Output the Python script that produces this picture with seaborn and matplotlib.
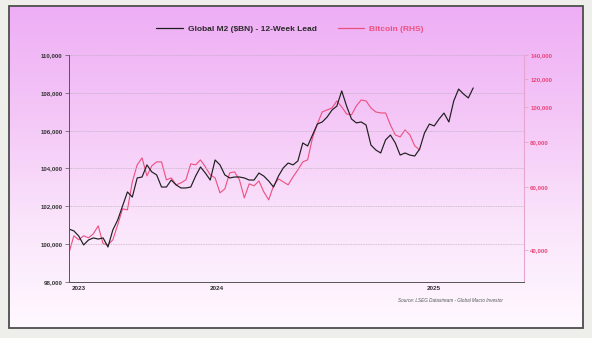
import numpy as np
import pandas as pd
import matplotlib
matplotlib.use("Agg")
import matplotlib.pyplot as plt
import matplotlib.dates as mdates
from matplotlib.colors import LinearSegmentedColormap
from matplotlib.lines import Line2D
from matplotlib.patches import Rectangle
from matplotlib.ticker import FixedLocator, FuncFormatter, NullLocator, NullFormatter
import seaborn as sns

# Weekly observations
start_date = "2023-12-03"

# Global M2 ($BN), shifted forward 12 weeks
m2_values = [100800, 100700, 100430, 99960, 100220, 100330, 100270, 100330, 99850, 100750,
             101280, 102020, 102760, 102490, 103500, 103550, 104190, 103820, 103660, 103020,
             103020, 103390, 103130, 102970, 102970, 103020, 103600, 104080, 103760, 103390,
             104450, 104190, 103660, 103500, 103550, 103550, 103500, 103390, 103390, 103760,
             103600, 103340, 103020, 103600, 104030, 104290, 104190, 104400, 105350, 105190,
             105770, 106350, 106460, 106720, 107090, 107300, 108100, 107300, 106620, 106410,
             106460, 106300, 105240, 104980, 104820, 105510, 105770, 105350, 104710, 104820,
             104710, 104660, 105030, 105880, 106350, 106250, 106620, 106930, 106460, 107570,
             108200, 107940, 107730, 108260]

# Bitcoin price (USD)
btc_values = [39220, 43750, 42630, 43750, 43190, 44310, 46650, 41550, 41280, 42630,
              46960, 52040, 51700, 61890, 69050, 72230, 64330, 68600, 70380, 70380,
              62690, 63500, 60720, 61500, 62690, 69500, 69050, 71300, 68170, 64750,
              63500, 57670, 59160, 65580, 66010, 62690, 55850, 61110, 60330, 62290,
              58040, 55130, 60330, 63100, 61890, 60720, 63920, 66860, 70380, 71300,
              82120, 89850, 97060, 98310, 99580, 104170, 100230, 95820, 95200, 100870,
              104850, 104170, 99580, 97060, 96430, 96430, 89280, 83720, 82650, 86460,
              83720, 78010, 76040]

left_ticks = [98000, 100000, 102000, 104000, 106000, 108000, 110000]
right_ticks = [40000, 60000, 80000, 100000, 120000, 140000]
year_labels = ["2023", "2024", "2025"]

m2_label = "Global M2 ($BN) - 12-Week Lead"
btc_label = "Bitcoin (RHS)"
source_text = "Source: LSEG Datastream - Global Macro Investor"

m2_df = pd.DataFrame({"date": pd.date_range(start_date, periods=len(m2_values), freq="7D"),
                      "value": m2_values})
btc_df = pd.DataFrame({"date": pd.date_range(start_date, periods=len(btc_values), freq="7D"),
                       "value": btc_values})

sns.set_theme(style="white")
plt.rcParams["font.family"] = ["Liberation Sans", "DejaVu Sans"]

W, H = 592, 338
fig = plt.figure(figsize=(W / 100, H / 100), dpi=100)
fig.patch.set_facecolor("#eeeeea")

# Panel with vertical lavender gradient
panel = [9 / W, 1 - 328 / H, (583 - 9) / W, (328 - 6) / H]
bg = fig.add_axes(panel, zorder=-5)
grad_cmap = LinearSegmentedColormap.from_list(
    "panel", ["#eeaef5", "#f4c6f7", "#fae4fb", "#fff9ff"])
bg.imshow(np.linspace(0, 1, 256).reshape(-1, 1), aspect="auto", cmap=grad_cmap,
          extent=[0, 1, 0, 1], origin="upper")
bg.set_axis_off()
fig.patches.append(Rectangle((panel[0], panel[1]), panel[2], panel[3],
                             transform=fig.transFigure, fill=False,
                             edgecolor="#4d4d4d", linewidth=1.3, zorder=10))

ax = fig.add_axes([69 / W, 1 - 282 / H, (524 - 69) / W, (282 - 55) / H])
ax.patch.set_alpha(0)
ax2 = ax.twinx()
ax2.patch.set_alpha(0)

m2_color = "#1e1e1e"
btc_color = "#ec4f7f"

sns.lineplot(data=btc_df, x="date", y="value", ax=ax2, color=btc_color, linewidth=0.8,
             legend=False)
sns.lineplot(data=m2_df, x="date", y="value", ax=ax, color=m2_color, linewidth=0.85,
             legend=False)
ax.set_zorder(ax2.get_zorder() + 1)

# Left axis (M2)
ax.set_ylim(98000, 110000)
ax.yaxis.set_major_locator(FixedLocator(left_ticks))
ax.yaxis.set_major_formatter(FuncFormatter(lambda v, p: f"{int(v):,}"))
ax.yaxis.grid(True, color="#b7a9ba", linestyle=(0, (1.2, 1.2)), linewidth=0.5)
ax.xaxis.grid(False)
ax.set_xlabel("")
ax.set_ylabel("")
ax.tick_params(axis="y", which="major", length=3, width=0.5, color="#555555",
               labelsize=4.4, labelcolor="#333333", pad=1.5)
for lbl in ax.get_yticklabels():
    lbl.set_fontweight("bold")

# Right axis (Bitcoin, log scale)
ax2.set_yscale("log")
ax2.set_ylim(32500, 140000)
ax2.yaxis.set_major_locator(FixedLocator(right_ticks))
ax2.yaxis.set_major_formatter(FuncFormatter(lambda v, p: f"{int(round(v)):,}"))
ax2.yaxis.set_minor_locator(NullLocator())
ax2.yaxis.set_minor_formatter(NullFormatter())
ax2.grid(False)
ax2.set_ylabel("")
ax2.tick_params(axis="y", which="major", length=3, width=0.5, color="#e59cc4",
                labelsize=4.4, labelcolor="#e8467a", pad=1.5)
for lbl in ax2.get_yticklabels():
    lbl.set_fontweight("bold")

# Time axis: ticks at year boundaries, labels centred in each visible year
x_start = pd.Timestamp(start_date)
x_end = pd.Timestamp("2025-09-17")
ax.set_xlim(x_start, x_end)
bounds = [pd.Timestamp("2024-01-01"), pd.Timestamp("2025-01-01")]
edges = [x_start] + bounds + [x_end]
centers = [edges[i] + (edges[i + 1] - edges[i]) / 2 for i in range(len(edges) - 1)]
ax.xaxis.set_major_locator(FixedLocator(mdates.date2num(bounds)))
ax.xaxis.set_major_formatter(NullFormatter())
ax.xaxis.set_minor_locator(FixedLocator(mdates.date2num(centers)))
ax.xaxis.set_minor_formatter(FuncFormatter(
    lambda v, p: year_labels[p] if p is not None and p < len(year_labels) else ""))
ax.tick_params(axis="x", which="major", length=2.5, width=0.6, color="#444444",
               direction="inout")
ax.tick_params(axis="x", which="minor", length=0, labelsize=4.6, labelcolor="#333333",
               pad=3)
for lbl in ax.get_xticklabels(minor=True):
    lbl.set_fontweight("bold")

for a in (ax, ax2):
    a.spines["top"].set_visible(False)
ax.spines["right"].set_visible(False)
ax2.spines["left"].set_visible(False)
ax2.spines["bottom"].set_visible(False)
ax.spines["left"].set_color("#555555")
ax.spines["left"].set_linewidth(0.7)
ax.spines["bottom"].set_color("#555555")
ax.spines["bottom"].set_linewidth(0.7)
ax2.spines["right"].set_color("#e7a6cf")
ax2.spines["right"].set_linewidth(0.8)

# Legend across the top
handles = [Line2D([], [], color=m2_color, linewidth=0.9),
           Line2D([], [], color=btc_color, linewidth=0.9)]
leg = fig.legend(handles, [m2_label, btc_label], loc="center",
                 bbox_to_anchor=(290 / W, 1 - 29 / H), ncol=2, frameon=False,
                 prop={"size": 6, "weight": "bold"}, handlelength=3.2,
                 handletextpad=0.6, columnspacing=2.5)
leg.get_texts()[0].set_color("#2a2a2a")
leg.get_texts()[1].set_color(btc_color)

fig.text(503 / W, 1 - 300 / H, source_text, ha="right", va="center", fontsize=3.3,
         style="italic", color="#555555")

fig.savefig("out.png", dpi=100, facecolor=fig.get_facecolor())
